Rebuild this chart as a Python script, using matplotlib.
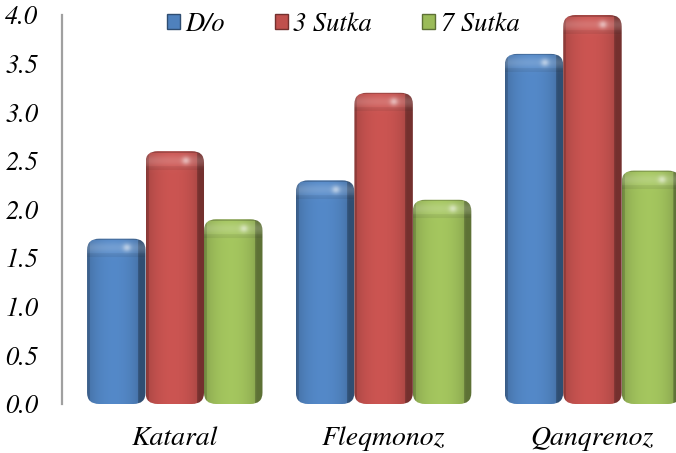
import numpy as np
import matplotlib.pyplot as plt
from matplotlib.patches import FancyBboxPatch, Patch
from matplotlib.colors import to_rgb

categories = ['Kataral', 'Fleqmonoz', 'Qanqrenoz']
series = ['D/o', '3 Sutka', '7 Sutka']
d_o = [1.7, 2.3, 3.6]
sutka3 = [2.6, 3.2, 4.0]
sutka7 = [1.9, 2.1, 2.4]
colors = ['#4F81BD', '#C0504D', '#9BBB59']

plt.rcParams['font.family'] = ['STIXGeneral', 'DejaVu Serif']
plt.rcParams['font.style'] = 'italic'

fig = plt.figure(figsize=(6.76, 4.53), dpi=100)
ax = fig.add_axes([62 / 676, 1 - 404 / 453, 1 - 62 / 676, 389 / 453])

x = np.arange(len(categories))
width = 0.28


def shade(rgb, h, nx=60, px_per_unit=97.3):
    ny = max(int(h * px_per_unit), 2)
    u = np.linspace(0, 1, nx)[None, :]
    v = np.arange(ny)[:, None].astype(float)  # pixels from top
    fac = 0.84 + 0.22 * np.sin(np.pi * np.clip(u * 1.1, 0, 1)) ** 0.6
    fac = fac * np.where(u > 0.87, 0.72, 1.0)
    fac = fac * np.where(u < 0.04, 0.85, 1.0)
    img = np.array(rgb)[None, None, :] * fac[..., None] * np.ones((ny, 1, 1))
    light = 0.18 * np.exp(-((v - 9) / 6.0) ** 2) * np.ones((1, nx))
    spot = 0.4 * np.exp(-((u - 0.68) / 0.07) ** 2 - ((v - 9) / 4.0) ** 2)
    shadow = np.where((v > 14) & (v < 19), 0.93, 1.0) * np.ones((1, nx))
    edge = np.where(v < 2, 0.8, 1.0) * np.ones((1, nx))
    L = (light + spot)[..., None]
    img = img * (edge * shadow)[..., None]
    img = img + (1 - img) * L
    return np.clip(img, 0, 1)


for i, (vals, col) in enumerate(zip([d_o, sutka3, sutka7], colors)):
    xs = x + (i - 1) * width
    bars = ax.bar(xs, vals, width, color='none', edgecolor='none')
    rgb = to_rgb(col)
    for b in bars:
        x0, h, w = b.get_x(), b.get_height(), b.get_width()
        patch = FancyBboxPatch((x0, 0), w, h,
                               boxstyle='round,pad=0,rounding_size=0.058',
                               mutation_aspect=2.0,
                               facecolor='none', edgecolor='none')
        ax.add_patch(patch)
        im = ax.imshow(shade(rgb, h), extent=[x0, x0 + w, 0, h],
                       aspect='auto', interpolation='bilinear', zorder=2)
        im.set_clip_path(patch)

ax.set_aspect('auto')
ax.set_xlim(-0.54, 2.40)
ax.set_ylim(0, 4.0)

ax.set_xticks(x)
ax.set_xticklabels(categories, fontsize=20)
ax.set_yticks(np.arange(0, 4.01, 0.5))
ax.set_yticklabels([f'{t:.1f}' for t in np.arange(0, 4.01, 0.5)], fontsize=19)
ax.tick_params(axis='both', length=0)
ax.tick_params(axis='y', pad=17)
ax.tick_params(axis='x', pad=16)
for s in ['top', 'right', 'bottom']:
    ax.spines[s].set_visible(False)
ax.spines['left'].set_color('#A0A0A0')
ax.spines['left'].set_linewidth(1.6)
ax.spines['left'].set_zorder(0)

handles = [Patch(facecolor=c, edgecolor=tuple(0.6 * np.array(to_rgb(c))), linewidth=1)
           for c in colors]
fig.legend(handles, series, loc='center', bbox_to_anchor=(343 / 676, 1 - 25 / 453),
           ncol=3, frameon=False, fontsize=19, handlelength=0.5, handleheight=0.5,
           handletextpad=0.2, columnspacing=1.9)

fig.savefig('out.png', dpi=100)
